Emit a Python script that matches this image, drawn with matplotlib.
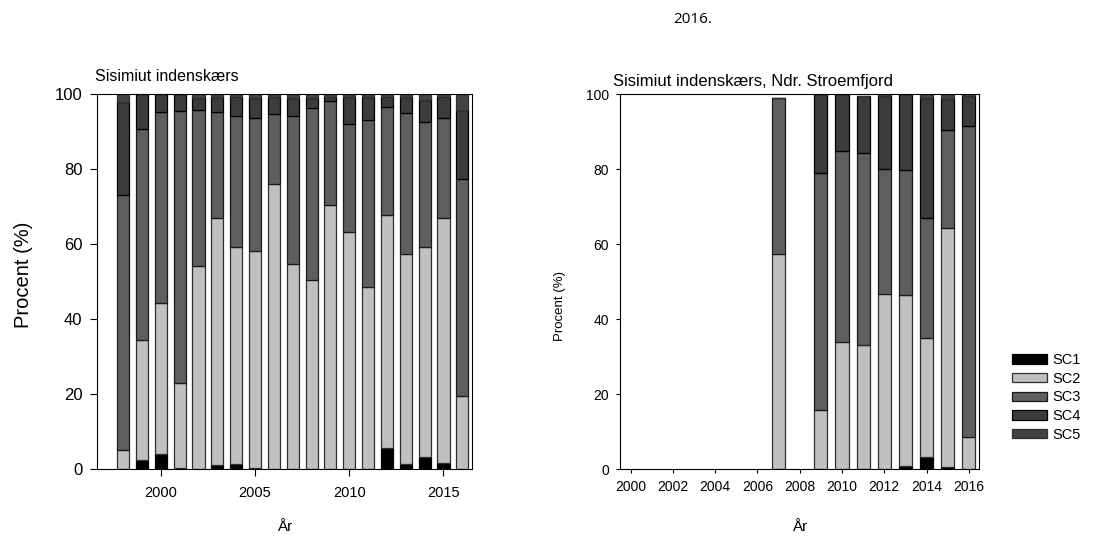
import matplotlib
matplotlib.use("Agg")
import matplotlib.pyplot as plt
import numpy as np

plt.rcParams['font.family'] = ['Liberation Sans', 'DejaVu Sans']

# Sisimiut indenskaers, share (%) per shell condition
left_years = np.arange(1998, 2017)
left_sc1 = [0, 2.4, 4.2, 0.3, 0, 1.1, 1.5, 0.3, 0.2, 0.1, 0.2, 0.2, 0, 0, 5.6, 1.3, 3.4, 1.6, 0]
left_sc2 = [5.1, 32.1, 40.2, 22.6, 54.2, 65.9, 57.8, 57.8, 75.8, 54.7, 50.3, 70.3, 63.4, 48.6, 62.2, 56.1, 55.8, 65.3, 19.6]
left_sc3 = [68.1, 56.2, 51.0, 72.7, 41.6, 28.4, 34.9, 35.6, 18.7, 39.5, 45.8, 27.8, 28.6, 44.5, 28.9, 37.5, 33.5, 26.9, 57.7]
left_sc4 = [24.7, 9.3, 4.6, 4.4, 3.3, 3.9, 5.0, 5.4, 4.7, 4.8, 2.8, 1.1, 7.3, 6.3, 2.6, 4.4, 5.9, 5.5, 18.5]
left_sc5 = [2.1, 0, 0, 0, 0.9, 0.7, 0.8, 0.9, 0.6, 0.9, 0.9, 0.6, 0.7, 0.6, 0.7, 0.7, 1.4, 0.7, 4.2]

# Sisimiut indenskaers, Ndr. Stroemfjord
right_years = [2007, 2009, 2010, 2011, 2012, 2013, 2014, 2015, 2016]
right_sc1 = [0, 0, 0, 0, 0, 0.9, 3.4, 0.5, 0]
right_sc2 = [57.5, 15.8, 34.0, 33.2, 46.8, 45.5, 31.7, 63.8, 8.7]
right_sc3 = [41.4, 63.1, 51.0, 51.1, 33.2, 33.3, 31.8, 26.2, 82.8]
right_sc4 = [0, 21.1, 15.0, 15.2, 19.5, 20.3, 32.0, 8.2, 8.0]
right_sc5 = [0, 0, 0, 0, 0.5, 0, 1.1, 1.3, 0.7]

labels = ['SC1', 'SC2', 'SC3', 'SC4', 'SC5']
colors = ['#000000', '#c0c0c0', '#5e5e5e', '#3c3c3c', '#424242']
edges = ['#000000', '#303030', '#1a1a1a', '#000000', '#303030']


def stacked(ax, years, series, width):
    bottom = np.zeros(len(years))
    for vals, lab, col, ec in zip(series, labels, colors, edges):
        vals = np.array(vals, dtype=float)
        ax.bar(years, vals, width, bottom=bottom, color=col, edgecolor=ec,
               linewidth=0.9, label=lab)
        bottom += vals


fig = plt.figure(figsize=(11.04, 5.40), dpi=100)
ax1 = fig.add_axes([0.0876, 0.1309, 0.3397, 0.6944])
ax2 = fig.add_axes([0.5616, 0.1309, 0.3255, 0.6944])

stacked(ax1, left_years, [left_sc1, left_sc2, left_sc3, left_sc4, left_sc5], 0.64)
stacked(ax2, right_years, [right_sc1, right_sc2, right_sc3, right_sc4, right_sc5], 0.62)

ax1.set_xlim(1996.6, 2016.5)
ax1.set_xticks([2000, 2005, 2010, 2015])
ax2.set_xlim(1999.5, 2016.5)
ax2.set_xticks(np.arange(2000, 2017, 2))

for ax in (ax1, ax2):
    ax.set_ylim(0, 100)
    ax.set_yticks(np.arange(0, 101, 20))
    for s in ax.spines.values():
        s.set_linewidth(0.8)
    ax.set_xlabel('År', fontsize=11)
    ax.xaxis.set_label_coords(0.5, -0.135)

ax1.tick_params(axis='y', direction='out', length=4.8, width=0.8, labelsize=12, pad=5.5)
ax1.tick_params(axis='x', direction='out', length=4.8, width=0.8, labelsize=10.5, pad=7)
ax2.tick_params(axis='both', direction='out', length=3, width=0.8, labelsize=10, pad=5)

ax1.set_ylabel('Procent (%)', fontsize=14.5)
ax1.yaxis.set_label_coords(-0.17, 0.518)
ax2.set_ylabel('Procent (%)', fontsize=9.5)
ax2.yaxis.set_label_coords(-0.15, 0.435)

ax1.text(-0.005, 1.036, 'Sisimiut indenskærs', transform=ax1.transAxes,
         fontsize=11.5, ha='left', va='baseline')
ax2.text(-0.019, 1.022, 'Sisimiut indenskærs, Ndr. Stroemfjord', transform=ax2.transAxes,
         fontsize=12, ha='left', va='baseline')

fig.text(0.627, 0.963, '2016.', fontsize=11, ha='center', va='center',
         family=['Open Sans', 'DejaVu Sans'])

handles, labs = ax1.get_legend_handles_labels()
fig.legend(handles, labs, loc='upper left', bbox_to_anchor=(0.917, 0.346),
           frameon=False, fontsize=10.5, handlelength=2.35, handleheight=0.6,
           labelspacing=0.32, handletextpad=0.42, borderpad=0, borderaxespad=0)

fig.savefig('out.png', dpi=100)
